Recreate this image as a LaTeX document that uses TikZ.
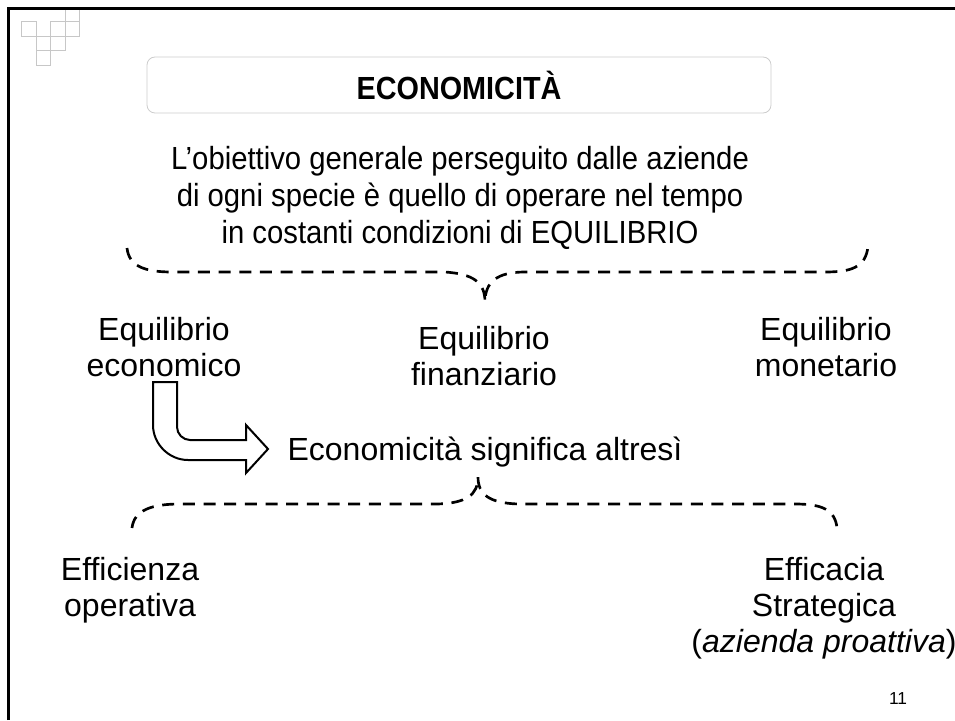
\documentclass[tikz,border=0pt]{standalone}
\usepackage{fontspec}
\setmainfont{Liberation Sans}
\usepackage{tkz-euclide}

\tikzset{
  big/.style={font=\fontsize{24}{27}\selectfont, align=center, inner sep=0pt},
  brace/.style={dash pattern=on 9pt off 6.5pt, line width=2pt},
  cell/.style={draw=black!22, line width=0.6pt}
}

\begin{document}
\begin{tikzpicture}[x=0.75pt,y=-0.75pt]
\useasboundingbox (0,0) rectangle (955,720);
% slide corner
\foreach \c/\r in {0/0,1/1,1/2,2/0,2/1,3/0,3/-1}
  \draw[cell] (21.5+14.5*\c,21.5+14.5*\r) rectangle ++(14.5,14.5);
\draw[line width=2pt] (8.7,720) -- (8.7,8.7) -- (955,8.7);

\node[draw=black!20, line width=0.6pt, rounded corners=6pt, minimum width=468pt, minimum height=42pt,
      font=\fontsize{24}{28}\selectfont\addfontfeature{FakeStretch=0.9}\bfseries] (title) at (459,85) {ECONOMICITÀ};
\node[big, font=\fontsize{24}{27.75}\selectfont\addfontfeature{FakeStretch=0.915}] (goal) at (460,198)
  {L’obiettivo generale perseguito dalle aziende\\di ogni specie è quello di operare nel tempo\\in costanti condizioni di EQUILIBRIO};

\node[big] (eqEco) at (164,347) {Equilibrio\\economico};
\node[big] (eqFin) at (484,356) {Equilibrio\\finanziario};
\node[big] (eqMon) at (826,347) {Equilibrio\\monetario};
\node[big] (signif) at (485,452) {Economicità significa altresì};
\node[big] (effOp) at (130,590) {Efficienza\\operativa};
\node[big] (effStr) at (824,608) {Efficacia\\Strategica\\(\textit{azienda proattiva})};
\node[font=\fontsize{13}{15}\selectfont, inner sep=0pt] (page) at (898,699) {11};

% braces
\tkzDefPoints{127/248/bAl,172/272/bAa,445/272/bAb,485/302/bAt,525/272/bAc,825/272/bAd,868/246/bAr}
\tkzDefPoints{132/528/bBl,180/504/bBa,438/504/bBb,478/477/bBt,518/504/bBc,795/504/bBd,837/528/bBr}
\draw[brace] (bAl) .. controls +(2,18) and +(-28,0) .. (bAa) -- (bAb)
  .. controls +(28,2) and +(0,-20) .. (bAt) .. controls +(0,-20) and +(-28,0) .. (bAc)
  -- (bAd) .. controls +(25,0) and +(-2,22) .. (bAr);
\draw[brace] (bBl) .. controls +(2,-18) and +(-28,0) .. (bBa) -- (bBb)
  .. controls +(28,-1) and +(0,18) .. (bBt) .. controls +(0,18) and +(-28,-1) .. (bBc)
  -- (bBd) .. controls +(28,0) and +(-2,-18) .. (bBr);

% bent arrow
\tkzDefPoints{153/382/A,177/382/B,177/427/C,190/440/D,246/440/E,246/425/F,268/449/G,246/473/H,246/460/I,188/460/J,153/425/K}
\draw[line width=1.5pt] (A) -- (B) -- (C) .. controls +(0,7) and +(-7,0) .. (D) -- (E) -- (F) -- (G)
  -- (H) -- (I) -- (J) .. controls +(-19,0) and +(0,19) .. (K) -- cycle;
\end{tikzpicture}
\end{document}
